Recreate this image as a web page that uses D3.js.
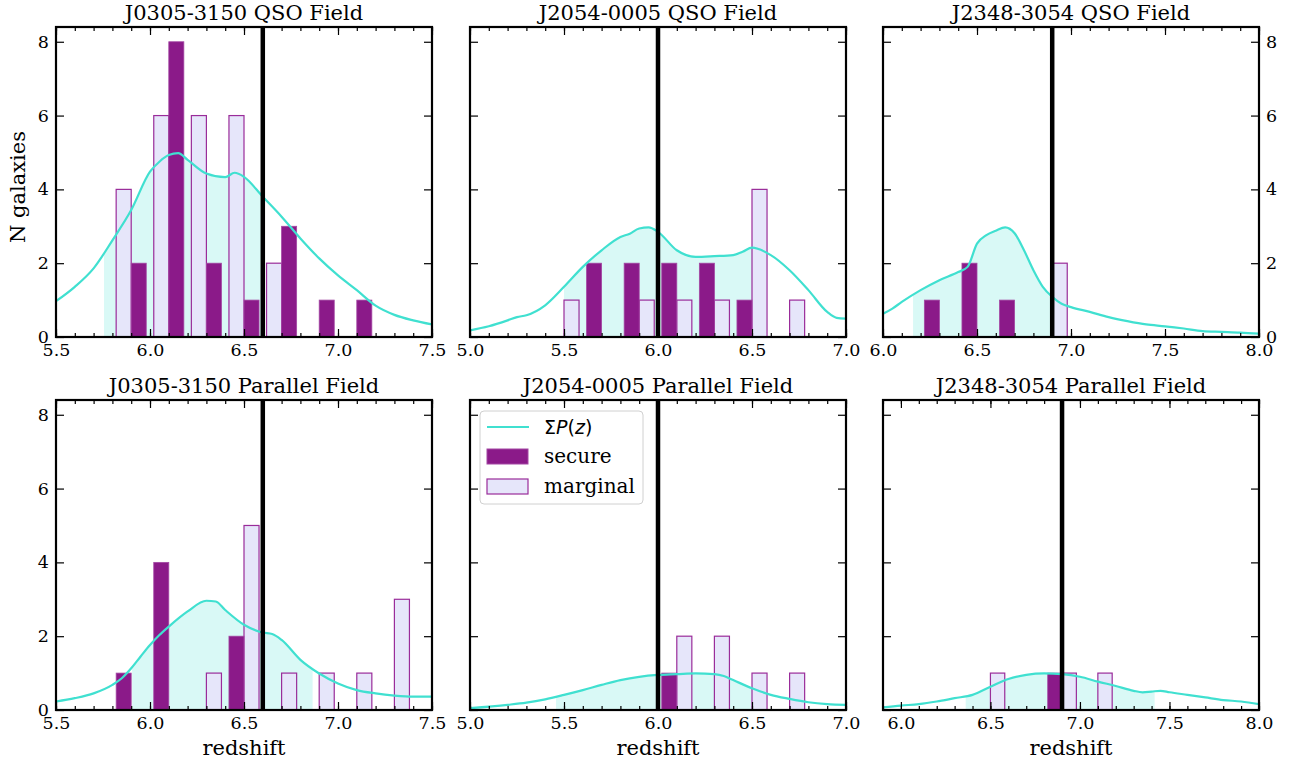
<!DOCTYPE html>
<html>
<head>
<meta charset="utf-8">
<script src="https://cdn.jsdelivr.net/npm/d3@7"></script>
<style>
  body { margin: 0; background: #fff; }
</style>
</head>
<body>
<div id="chart-area"></div>
<script>
// panel order: top row QSO fields, bottom row parallel fields
var titles = ['J0305-3150 QSO Field', 'J2054-0005 QSO Field', 'J2348-3054 QSO Field',
    'J0305-3150 Parallel Field', 'J2054-0005 Parallel Field', 'J2348-3054 Parallel Field'];
var xDomains = [[5.5, 7.5], [5.0, 7.0], [6.0, 8.0], [5.5, 7.5], [5.0, 7.0], [5.9, 8.0]];
var qsoRedshift = [6.6, 6.0, 6.9, 6.6, 6.0, 6.9];
var yTicks = [0, 2, 4, 6, 8];
var barWidth = 0.08;

// histogram bars: left edge of each bar and number of galaxies
var secureLeft = [
    [5.90, 6.10, 6.30, 6.50, 6.70, 6.90, 7.10],
    [5.62, 5.82, 6.02, 6.22, 6.42],
    [6.22, 6.42, 6.62],
    [5.82, 6.02, 6.42],
    [6.02],
    [6.82]
];
var secureN = [
    [2, 8, 2, 1, 3, 1, 1],
    [2, 2, 2, 2, 1],
    [1, 2, 1],
    [1, 4, 2],
    [1],
    [1]
];
var marginalLeft = [
    [5.82, 6.02, 6.22, 6.42, 6.62],
    [5.50, 5.90, 6.10, 6.30, 6.50, 6.70],
    [6.90],
    [6.30, 6.50, 6.70, 6.90, 7.10, 7.30],
    [6.10, 6.30, 6.50, 6.70],
    [6.50, 6.90, 7.10]
];
var marginalN = [
    [4, 6, 6, 6, 2],
    [1, 1, 1, 1, 4, 1],
    [2],
    [1, 5, 1, 1, 1, 3],
    [2, 2, 1, 1],
    [1, 1, 1]
];

// summed P(z) curves
var pzZ = [
    [5.5, 5.6, 5.7, 5.8, 5.9, 6.0, 6.05, 6.1, 6.15, 6.2, 6.3, 6.4, 6.45, 6.5, 6.6, 6.7, 6.8, 6.9, 7.0, 7.1, 7.2, 7.3, 7.4, 7.5],
    [5.0, 5.1, 5.2, 5.25, 5.3, 5.4, 5.5, 5.6, 5.7, 5.8, 5.85, 5.9, 5.95, 6.0, 6.1, 6.2, 6.3, 6.4, 6.45, 6.5, 6.6, 6.7, 6.8, 6.9, 6.95, 7.0],
    [6.0, 6.05, 6.1, 6.2, 6.3, 6.4, 6.45, 6.5, 6.55, 6.6, 6.65, 6.7, 6.75, 6.8, 6.85, 6.9, 6.95, 7.0, 7.1, 7.2, 7.3, 7.4, 7.5, 7.6, 7.7, 7.8, 7.9, 8.0],
    [5.5, 5.6, 5.7, 5.8, 5.85, 5.9, 5.95, 6.0, 6.05, 6.1, 6.2, 6.3, 6.35, 6.4, 6.5, 6.6, 6.65, 6.7, 6.8, 6.9, 7.0, 7.1, 7.2, 7.3, 7.4, 7.5],
    [5.0, 5.2, 5.3, 5.4, 5.5, 5.6, 5.7, 5.8, 5.9, 6.0, 6.1, 6.2, 6.3, 6.35, 6.4, 6.5, 6.6, 6.7, 6.8, 6.9, 7.0],
    [5.9, 6.0, 6.1, 6.2, 6.3, 6.4, 6.5, 6.6, 6.7, 6.8, 6.9, 7.0, 7.1, 7.2, 7.3, 7.35, 7.4, 7.45, 7.5, 7.6, 7.7, 7.8, 7.9, 8.0]
];
var pzN = [
    [0.97, 1.36, 1.86, 2.62, 3.44, 4.48, 4.75, 4.93, 4.98, 4.8, 4.43, 4.33, 4.45, 4.34, 3.8, 3.26, 2.67, 2.13, 1.67, 1.27, 0.85, 0.6, 0.45, 0.34],
    [0.18, 0.29, 0.45, 0.54, 0.59, 0.86, 1.36, 1.9, 2.35, 2.71, 2.8, 2.94, 2.97, 2.85, 2.35, 2.17, 2.19, 2.22, 2.31, 2.42, 2.22, 1.81, 1.27, 0.68, 0.52, 0.5],
    [0.63, 0.77, 0.95, 1.27, 1.54, 1.76, 1.9, 2.53, 2.76, 2.88, 2.97, 2.81, 2.35, 1.81, 1.36, 1.09, 0.9, 0.81, 0.68, 0.54, 0.43, 0.34, 0.29, 0.23, 0.16, 0.14, 0.12, 0.09],
    [0.23, 0.32, 0.45, 0.68, 0.86, 1.13, 1.45, 1.76, 2.03, 2.26, 2.67, 2.96, 2.94, 2.71, 2.31, 2.1, 2.06, 1.9, 1.36, 0.99, 0.72, 0.54, 0.45, 0.39, 0.36, 0.36],
    [0.05, 0.14, 0.2, 0.29, 0.41, 0.54, 0.68, 0.81, 0.9, 0.95, 0.97, 0.99, 0.97, 0.92, 0.81, 0.59, 0.41, 0.3, 0.21, 0.16, 0.14],
    [0.07, 0.12, 0.16, 0.23, 0.32, 0.41, 0.63, 0.84, 0.95, 0.99, 0.97, 0.9, 0.77, 0.65, 0.52, 0.48, 0.5, 0.52, 0.48, 0.41, 0.34, 0.27, 0.23, 0.16]
];
// shaded part of each P(z) curve
var pzShade = [[5.755, 6.59], [5.50, 6.50], [6.16, 6.89], [5.905, 6.865], [5.458, 6.50], [6.362, 7.417]];

var colX = [56, 470, 883];
var rowY = [27, 400];
var width = 376;
var height = 310;
var serif = '"DejaVu Serif", serif';

var svg = d3.select('#chart-area')
    .append('svg')
    .attr('width', 1293)
    .attr('height', 764)
    .style('font-family', serif);

function fixAxis(sel) {
    sel.select('.domain').remove();
    sel.selectAll('.tick line').attr('stroke', '#000').attr('stroke-width', 1.2);
    sel.selectAll('.tick text')
        .attr('fill', '#000')
        .style('font-family', serif)
        .style('font-size', '17.5px');
}

titles.forEach(function (title, i) {
    var col = i % 3;
    var row = Math.floor(i / 3);
    var g = svg.append('g')
        .attr('transform', 'translate(' + colX[col] + ',' + rowY[row] + ')');

    var x = d3.scaleLinear().domain(xDomains[i]).range([0, width]);
    var y = d3.scaleLinear().domain([0, 8.4]).range([height, 0]);

    g.append('clipPath').attr('id', 'clip' + i)
        .append('rect').attr('width', width).attr('height', height);
    g.append('clipPath').attr('id', 'shade' + i)
        .append('rect')
        .attr('x', x(pzShade[i][0]))
        .attr('width', x(pzShade[i][1]) - x(pzShade[i][0]))
        .attr('height', height);

    var pts = d3.zip(pzZ[i], pzN[i]);

    var area = d3.area()
        .x(function (d) { return x(d[0]); })
        .y0(height)
        .y1(function (d) { return y(d[1]); })
        .curve(d3.curveMonotoneX);
    var line = d3.line()
        .x(function (d) { return x(d[0]); })
        .y(function (d) { return y(d[1]); })
        .curve(d3.curveMonotoneX);

    g.append('path')
        .datum(pts)
        .attr('clip-path', 'url(#shade' + i + ')')
        .attr('d', area)
        .attr('fill', '#40e0d0')
        .attr('fill-opacity', 0.2);

    g.selectAll('rect.marginal')
        .data(d3.zip(marginalLeft[i], marginalN[i]))
        .enter()
        .append('rect')
        .attr('class', 'marginal')
        .attr('x', function (d) { return x(d[0]); })
        .attr('y', function (d) { return y(d[1]); })
        .attr('width', function (d) { return x(d[0] + barWidth) - x(d[0]); })
        .attr('height', function (d) { return height - y(d[1]); })
        .attr('fill', '#e6e6fa')
        .attr('stroke', '#9a2c9a')
        .attr('stroke-width', 1.2);

    g.selectAll('rect.secure')
        .data(d3.zip(secureLeft[i], secureN[i]))
        .enter()
        .append('rect')
        .attr('class', 'secure')
        .attr('x', function (d) { return x(d[0]); })
        .attr('y', function (d) { return y(d[1]); })
        .attr('width', function (d) { return x(d[0] + barWidth) - x(d[0]); })
        .attr('height', function (d) { return height - y(d[1]); })
        .attr('fill', '#8b1a89')
        .attr('stroke', '#a347a3')
        .attr('stroke-width', 0.8);

    g.append('path')
        .datum(pts)
        .attr('clip-path', 'url(#clip' + i + ')')
        .attr('d', line)
        .attr('fill', 'none')
        .attr('stroke', '#40e0d0')
        .attr('stroke-width', 2.2);

    g.append('line')
        .attr('x1', x(qsoRedshift[i]))
        .attr('x2', x(qsoRedshift[i]))
        .attr('y1', 0)
        .attr('y2', height)
        .attr('stroke', '#000')
        .attr('stroke-width', 4.5);

    // ticks
    var d0 = xDomains[i][0], d1 = xDomains[i][1];
    var major = d3.range(Math.ceil(d0 * 2), Math.floor(d1 * 2) + 1).map(function (v) { return v / 2; });
    var minor = d3.range(Math.round(d0 * 10), Math.round(d1 * 10) + 1).map(function (v) { return v / 10; });

    g.append('g').attr('transform', 'translate(0,' + height + ')')
        .call(d3.axisBottom(x).tickValues(minor).tickSize(-4).tickFormat(''))
        .call(fixAxis);
    g.append('g').attr('transform', 'translate(0,' + height + ')')
        .call(d3.axisBottom(x).tickValues(major).tickSize(-8).tickPadding(7).tickFormat(d3.format('.1f')))
        .call(fixAxis);
    g.append('g')
        .call(d3.axisTop(x).tickValues(minor).tickSize(-4).tickFormat(''))
        .call(fixAxis);
    g.append('g')
        .call(d3.axisTop(x).tickValues(major).tickSize(-8).tickFormat(''))
        .call(fixAxis);

    var yLeft = d3.axisLeft(y).tickValues(yTicks).tickSize(-8).tickPadding(7);
    if (col !== 0) yLeft.tickFormat('');
    g.append('g').call(yLeft).call(fixAxis);

    var yRight = d3.axisRight(y).tickValues(yTicks).tickSize(-8).tickPadding(7);
    if (i !== 2) yRight.tickFormat('');
    g.append('g').attr('transform', 'translate(' + width + ',0)').call(yRight).call(fixAxis);

    g.append('rect')
        .attr('width', width)
        .attr('height', height)
        .attr('fill', 'none')
        .attr('stroke', '#000')
        .attr('stroke-width', 2.2);

    g.append('text')
        .attr('x', width / 2)
        .attr('y', -7)
        .attr('text-anchor', 'middle')
        .style('font-family', serif)
        .style('font-size', '21px')
        .text(title);

    if (row === 1) {
        g.append('text')
            .attr('x', width / 2)
            .attr('y', height + 45)
            .attr('text-anchor', 'middle')
            .style('font-family', serif)
            .style('font-size', '21px')
            .text('redshift');
    }

    // legend sits in the middle bottom panel
    if (i === 4) {
        var lg = g.append('g').attr('transform', 'translate(10,11)');
        lg.append('rect')
            .attr('width', 163)
            .attr('height', 93)
            .attr('rx', 4)
            .attr('fill', '#fff')
            .attr('fill-opacity', 0.8)
            .attr('stroke', '#d0d0d0');
        lg.append('line')
            .attr('x1', 7).attr('x2', 49)
            .attr('y1', 16).attr('y2', 16)
            .attr('stroke', '#40e0d0')
            .attr('stroke-width', 2.2);
        lg.append('rect')
            .attr('x', 7).attr('y', 38)
            .attr('width', 41).attr('height', 15)
            .attr('fill', '#8b1a89')
            .attr('stroke', '#a347a3');
        lg.append('rect')
            .attr('x', 7).attr('y', 68)
            .attr('width', 41).attr('height', 15)
            .attr('fill', '#e6e6fa')
            .attr('stroke', '#9a2c9a')
            .attr('stroke-width', 1.2);
        var pz = lg.append('text')
            .attr('x', 64).attr('y', 23)
            .style('font-family', '"DejaVu Sans", sans-serif')
            .style('font-size', '19px');
        pz.append('tspan').text('Σ');
        pz.append('tspan').style('font-style', 'italic').text('P');
        pz.append('tspan').text('(');
        pz.append('tspan').style('font-style', 'italic').text('z');
        pz.append('tspan').text(')');
        lg.append('text').attr('x', 64).attr('y', 52)
            .style('font-family', serif).style('font-size', '20px').text('secure');
        lg.append('text').attr('x', 64).attr('y', 82)
            .style('font-family', serif).style('font-size', '20px').text('marginal');
    }
});

svg.append('text')
    .attr('transform', 'translate(25,187) rotate(-90)')
    .attr('text-anchor', 'middle')
    .style('font-family', serif)
    .style('font-size', '21px')
    .text('N galaxies');
</script>
</body>
</html>
